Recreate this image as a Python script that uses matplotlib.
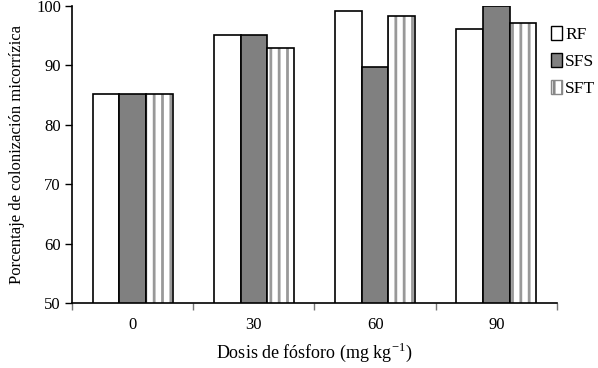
import matplotlib
matplotlib.use("Agg")
import matplotlib.pyplot as plt
from matplotlib.patches import Patch
import numpy as np

dosis = ["0", "30", "60", "90"]
rf = [85.2, 95.2, 99.1, 96.1]
sfs = [85.2, 95.2, 89.8, 100.0]
sft = [85.2, 93.0, 98.3, 97.1]

plt.rcParams['font.family'] = ['Liberation Serif', 'DejaVu Serif']
plt.rcParams['hatch.linewidth'] = 2.0
plt.rcParams['axes.unicode_minus'] = False

fig = plt.figure(figsize=(5.98, 3.68), dpi=100)
ax = fig.add_axes([0.1204, 0.1766, 0.8110, 0.8071])

x = np.arange(len(dosis))
w = 0.22
ax.bar(x - w, rf, w, color='white', edgecolor='black', linewidth=1.2)
ax.bar(x, sfs, w, color='#808080', edgecolor='black', linewidth=1.2)
ax.bar(x + w, sft, w, color='white', edgecolor='#999999', hatch='||', linewidth=0)
ax.bar(x + w, sft, w, fill=False, edgecolor='black', linewidth=1.2)

# legend proxies
h_rf = Patch(facecolor='white', edgecolor='black', linewidth=1)
h_sfs = Patch(facecolor='#808080', edgecolor='black', linewidth=1)
h_sft = Patch(facecolor='white', edgecolor='#888888', hatch='||', linewidth=1)
ax.legend([h_rf, h_sfs, h_sft], ['RF', 'SFS', 'SFT'], loc='upper left',
          bbox_to_anchor=(0.974, 0.955), frameon=False, fontsize=12.5,
          handlelength=0.6, handleheight=0.8, handletextpad=0.2,
          labelspacing=0.6, borderaxespad=0)

ax.set_ylim(50, 100)
ax.set_xlim(-0.5, 3.5)
ax.set_yticks([50, 60, 70, 80, 90, 100])
ax.set_xticks(x)
ax.set_xticklabels(dosis)
ax.set_xticks(np.arange(-0.5, 4.0, 1.0), minor=True)
ax.tick_params(axis='x', which='major', length=0, pad=10, labelsize=12)
ax.tick_params(axis='x', which='minor', length=5, color='#777777', width=1)
ax.tick_params(axis='y', length=5, width=1, labelsize=12, pad=3)
ax.spines['top'].set_visible(False)
ax.spines['right'].set_visible(False)
ax.spines['left'].set_linewidth(1.2)
ax.spines['bottom'].set_linewidth(1.2)

ax.set_xlabel('Dosis de fósforo (mg kg$^{\\mathregular{-1}}$)', fontsize=13, labelpad=6)
ax.set_ylabel('Porcentaje de colonización micorrízica', fontsize=12, labelpad=8)

fig.savefig('out.png', dpi=100)
